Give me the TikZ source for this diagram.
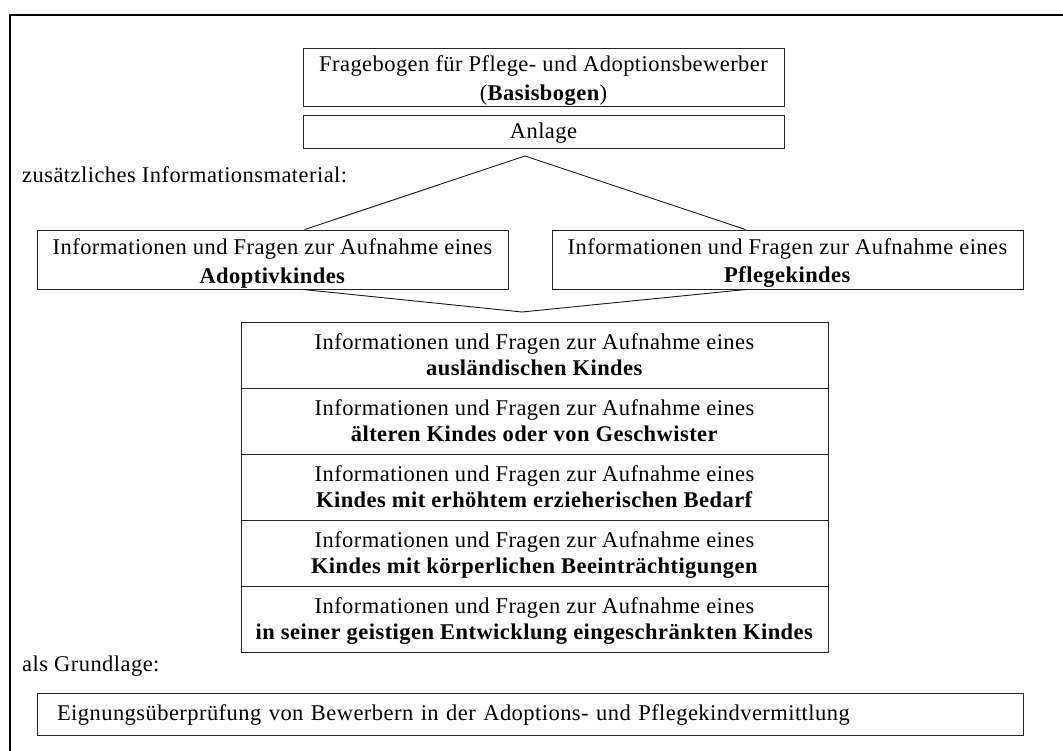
\documentclass[tikz,border=0pt]{standalone}
\usepackage{fontspec}
\setmainfont{Liberation Serif}[LetterSpace=2]
\usetikzlibrary{calc}
\newcommand\rowstrut{\rule[-6pt]{0pt}{26pt}}
\newcommand\sidestrut{\rule[-2pt]{0pt}{25pt}}
\newcommand\anlstrut{\rule[-2pt]{0pt}{21pt}}
\newcommand\botstrut{\rule[-5pt]{0pt}{22pt}}
\begin{document}
\begin{tikzpicture}[x=1pt,y=1pt,
  box/.style={draw=black!85, line width=0.9pt, inner sep=0pt, align=center,
    font=\fontsize{22.5}{26}\selectfont},
  rowbox/.style={box, minimum width=587, minimum height=66},
  sidebox/.style={box, minimum width=471, minimum height=59},
  plain/.style={inner sep=0pt, anchor=base west, font=\fontsize{22.5}{26}\selectfont},
  conn/.style={draw=black!90, line width=0.9pt}]
\useasboundingbox (0,0) rectangle (1063,-751);
\clip (0,0) rectangle (1063,-751);
\draw[line width=2.2pt] (10,-15) rectangle (1100,-800);

\node[box, minimum width=481, minimum height=58, font=\fontsize{22.5}{25}\selectfont] (top) at (543.5,-77)
  {\sidestrut Fragebogen für Pflege- und Adoptionsbewerber\\\sidestrut(\textbf{Basisbogen})};
\node[box, minimum width=481, minimum height=33] (anl) at (543.5,-131.5) {\anlstrut Anlage};

\node[plain] (zus) at (22,-183) {zusätzliches Informationsmaterial:};

\node[sidebox] (lb) at (272.5,-259.5)
  {\sidestrut Informationen und Fragen zur Aufnahme eines\\\sidestrut\textbf{Adoptivkindes}};
\node[sidebox] (rb) at (787.5,-259.5)
  {\sidestrut Informationen und Fragen zur Aufnahme eines\\\sidestrut\textbf{Pflegekindes}};

\coordinate (apexA) at (525,-156);
\coordinate (apexB) at (522,-312);
\draw[conn] ($(lb.north west)+(268,0)$) -- (apexA) -- ($(rb.north west)+(194,0)$);
\draw[conn] ($(lb.south west)+(266,0)$) -- (apexB) -- ($(rb.south west)+(195,0)$);

\node[rowbox] (r1) at (534.5,-355)
  {\rowstrut Informationen und Fragen zur Aufnahme eines\\\rowstrut\textbf{ausländischen Kindes}};
\node[rowbox] (r2) at (534.5,-421)
  {\rowstrut Informationen und Fragen zur Aufnahme eines\\\rowstrut\textbf{älteren Kindes oder von Geschwister}};
\node[rowbox] (r3) at (534.5,-487)
  {\rowstrut Informationen und Fragen zur Aufnahme eines\\\rowstrut\textbf{Kindes mit erhöhtem erzieherischen Bedarf}};
\node[rowbox] (r4) at (534.5,-553)
  {\rowstrut Informationen und Fragen zur Aufnahme eines\\\rowstrut\textbf{Kindes mit körperlichen Beeinträchtigungen}};
\node[rowbox] (r5) at (534.5,-619)
  {\rowstrut Informationen und Fragen zur Aufnahme eines\\\rowstrut\textbf{in seiner geistigen Entwicklung eingeschränkten Kindes}};

\node[plain] (grund) at (22,-671) {als Grundlage:};

\node[box, minimum height=42, text width=946, inner xsep=20pt, align=left] (bot) at (530,-714)
  {\botstrut Eignungsüberprüfung von Bewerbern in der Adoptions- und Pflegekindvermittlung};
\end{tikzpicture}
\end{document}
